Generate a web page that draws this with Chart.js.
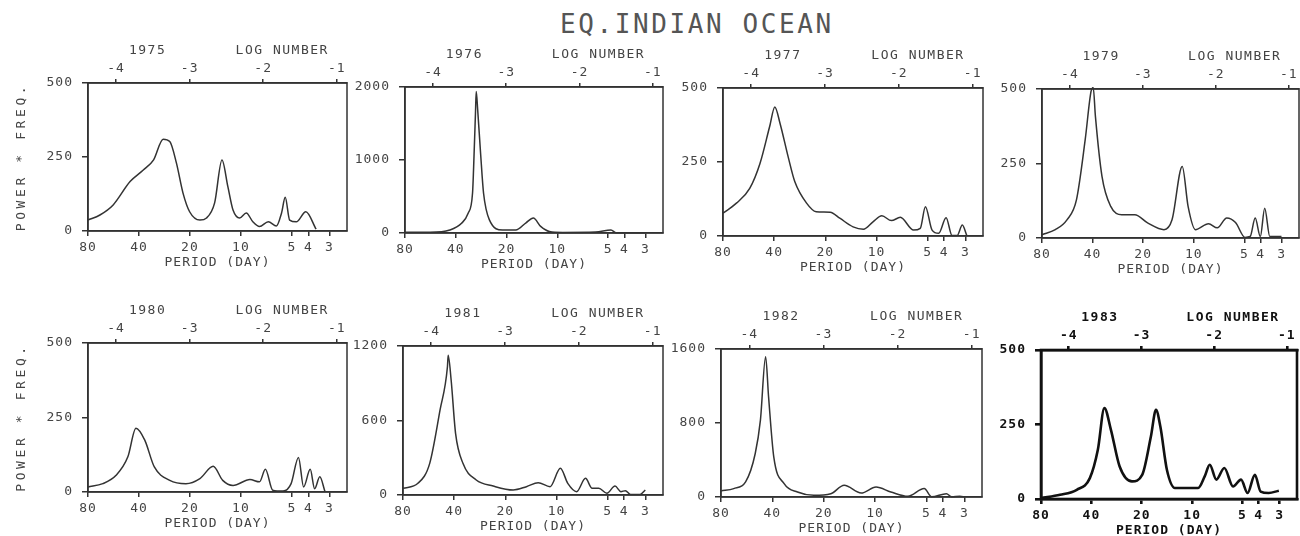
<!DOCTYPE html>
<html><head><meta charset="utf-8">
<script src="https://cdn.jsdelivr.net/npm/chart.js@4.4.1/dist/chart.umd.min.js"></script>
<style>
html,body{margin:0;padding:0;background:#fff;}
body{width:1300px;height:536px;position:relative;overflow:hidden;font-family:'DejaVu Sans Mono',monospace;}
#title{position:absolute;left:560px;top:9px;font-size:26px;letter-spacing:2.6px;color:#555;white-space:nowrap;line-height:30px;}
canvas{position:absolute;}
</style></head><body>
<div id="title">EQ.INDIAN OCEAN</div>
<script>
// ---------- data (x = LOG NUMBER = ln(frequency, cycles/day); y = power * frequency) ----------
const periodTicks = [80, 40, 20, 10, 5, 4, 3];
const logTicks = [-4, -3, -2, -1];
const years = ['1975', '1976', '1977', '1979', '1980', '1981', '1982', '1983'];
const yTicks1975 = [0, 250, 500];
const yTicks1976 = [0, 1000, 2000];
const yTicks1977 = [0, 250, 500];
const yTicks1979 = [0, 250, 500];
const yTicks1980 = [0, 250, 500];
const yTicks1981 = [0, 600, 1200];
const yTicks1982 = [0, 800, 1600];
const yTicks1983 = [0, 250, 500];

const ln1975 = [-4.382,-4.22,-4.04,-3.81,-3.63,-3.49,-3.36,-3.27,-3.18,-3.09,-3.00,-2.86,-2.77,-2.66,-2.56,-2.48,-2.41,-2.32,-2.23,-2.14,-2.05,-1.93,-1.82,-1.75,-1.70,-1.64,-1.55,-1.42,-1.28];
const pw1975 = [37,54,88,167,206,240,310,302,230,128,65,37,44,95,240,150,71,44,61,31,15,31,17,61,114,37,31,65,6];

const ln1976 = [-4.382,-4.04,-3.77,-3.61,-3.52,-3.46,-3.44,-3.42,-3.41,-3.39,-3.35,-3.31,-3.23,-3.05,-2.87,-2.73,-2.63,-2.53,-2.41,-2.23,-1.78,-1.57,-1.50,-1.10];
const pw1976 = [10,10,41,133,270,548,1050,1640,1940,1690,1090,548,180,41,41,140,205,90,20,8,12,41,2,2];

const ln1977 = [-4.382,-4.20,-4.02,-3.88,-3.75,-3.68,-3.61,-3.50,-3.41,-3.25,-3.12,-2.93,-2.80,-2.62,-2.48,-2.35,-2.23,-2.10,-1.98,-1.80,-1.71,-1.64,-1.55,-1.46,-1.36,-1.28,-1.21,-1.14,-1.08];
const pw1977 = [77,111,161,246,370,436,381,268,184,111,82,80,60,31,23,48,68,52,63,20,26,99,20,9,62,2,2,37,2];

const ln1979 = [-4.382,-4.20,-4.04,-3.91,-3.79,-3.71,-3.68,-3.65,-3.56,-3.44,-3.29,-3.11,-2.93,-2.71,-2.60,-2.46,-2.38,-2.28,-2.10,-1.98,-1.85,-1.73,-1.60,-1.53,-1.46,-1.39,-1.33,-1.26,-1.10];
const pw1979 = [11,28,61,128,330,492,505,408,207,106,78,78,50,28,61,240,106,28,48,34,67,52,2,5,67,5,100,5,5];

const ln1980 = [-4.382,-4.18,-4.00,-3.84,-3.73,-3.61,-3.48,-3.27,-3.05,-2.86,-2.68,-2.55,-2.41,-2.18,-2.05,-1.97,-1.87,-1.73,-1.62,-1.52,-1.45,-1.36,-1.30,-1.23,-1.16];
const pw1980 = [17,28,56,118,214,174,84,39,28,45,86,39,22,42,34,76,6,3,28,116,17,76,11,51,2];

const ln1981 = [-4.382,-4.18,-4.02,-3.88,-3.78,-3.77,-3.73,-3.67,-3.57,-3.39,-3.16,-2.89,-2.71,-2.55,-2.39,-2.25,-2.15,-2.03,-1.91,-1.82,-1.73,-1.62,-1.51,-1.43,-1.37,-1.30,-1.17,-1.10];
const pw1981 = [54,94,255,685,1033,1125,926,497,255,121,72,40,67,99,67,215,94,27,134,54,54,14,72,27,35,4,4,40];

const ln1982 = [-4.382,-4.21,-4.05,-3.92,-3.85,-3.78,-3.74,-3.67,-3.53,-3.35,-3.13,-2.90,-2.72,-2.49,-2.29,-2.09,-1.86,-1.64,-1.54,-1.34,-1.27,-1.16,-1.09];
const pw1982 = [65,91,163,470,831,1517,1083,433,145,54,18,36,127,43,108,54,7,91,2,36,2,7,2];

const ln1983 = [-4.382,-4.12,-3.89,-3.71,-3.60,-3.51,-3.42,-3.30,-3.13,-2.99,-2.87,-2.80,-2.74,-2.65,-2.54,-2.22,-2.13,-2.06,-1.97,-1.86,-1.74,-1.63,-1.54,-1.44,-1.36,-1.25,-1.11];
const pw1983 = [3,14,31,70,165,305,232,109,59,81,210,299,243,98,37,37,76,115,65,104,42,65,20,81,25,20,28];

// ---------- layout (page-pixel rectangles of each plot frame) ----------
const panels = [
  {year: years[0], xs: ln1975, ys: pw1975, yt: yTicks1975, L: 88,   T: 83,  R: 347,  B: 231, ytitle: true},
  {year: years[1], xs: ln1976, ys: pw1976, yt: yTicks1976, L: 405,  T: 87,  R: 663,  B: 233},
  {year: years[2], xs: ln1977, ys: pw1977, yt: yTicks1977, L: 723,  T: 88,  R: 983,  B: 236},
  {year: years[3], xs: ln1979, ys: pw1979, yt: yTicks1979, L: 1042, T: 89,  R: 1299, B: 238},
  {year: years[4], xs: ln1980, ys: pw1980, yt: yTicks1980, L: 88,   T: 343, R: 347,  B: 492, ytitle: true},
  {year: years[5], xs: ln1981, ys: pw1981, yt: yTicks1981, L: 403,  T: 346, R: 663,  B: 495},
  {year: years[6], xs: ln1982, ys: pw1982, yt: yTicks1982, L: 721,  T: 349, R: 982,  B: 497},
  {year: years[7], xs: ln1983, ys: pw1983, yt: yTicks1983, L: 1041, T: 350, R: 1297, B: 499, bold: true}
];

const X_MIN = -Math.log(80);
const X_MAX = -0.86;
const PADL = 85, PADT = 62, PADB = 39, PADR = 3;
const FONT = "'DejaVu Sans Mono', monospace";

const panelText = {
  id: 'panelText',
  beforeDraw(chart) {
    try { chart.ctx.letterSpacing = '1px'; } catch (e) {}
  },
  afterDraw(chart, args, opts) {
    const ctx = chart.ctx, a = chart.chartArea;
    ctx.save();
    // frame
    ctx.strokeStyle = opts.bold ? '#111' : '#333';
    ctx.lineWidth = opts.bold ? 2.6 : 1.5;
    ctx.strokeRect(a.left, a.top, a.right - a.left, a.bottom - a.top);
    // year and LOG NUMBER
    ctx.fillStyle = opts.bold ? '#111' : '#444';
    ctx.font = (opts.bold ? 'bold ' : '') + '13px ' + FONT;
    ctx.textBaseline = 'alphabetic';
    ctx.textAlign = 'center';
    try { ctx.letterSpacing = '1.5px'; } catch (e) {}
    const w = a.right - a.left;
    ctx.fillText(opts.year, a.left + 0.23 * w, a.top - 29);
    ctx.fillText('LOG NUMBER', a.left + 0.75 * w, a.top - 29);
    if (opts.ytitle) {
      try { ctx.letterSpacing = '3.6px'; } catch (e) {}
      ctx.translate(a.left - 66, (a.top + a.bottom) / 2);
      ctx.rotate(-Math.PI / 2);
      ctx.textBaseline = 'middle';
      ctx.fillText('POWER * FREQ.', 0, 0);
    }
    ctx.restore();
  }
};

panels.forEach((p, i) => {
  const cv = document.createElement('canvas');
  const W = (p.R - p.L) + PADL + PADR;
  const H = (p.B - p.T) + PADT + PADB;
  cv.width = W; cv.height = H;
  cv.style.left = (p.L - PADL) + 'px';
  cv.style.top = (p.T - PADT) + 'px';
  cv.style.width = W + 'px'; cv.style.height = H + 'px';
  document.body.appendChild(cv);

  const col = p.bold ? '#111' : '#333';
  const tcol = p.bold ? '#111' : '#444';
  const lw = p.bold ? 2.6 : 1.5;
  const tfont = {family: FONT, size: 13, weight: p.bold ? 'bold' : 'normal'};
  const yMax = p.yt[p.yt.length - 1];

  new Chart(cv, {
    type: 'line',
    data: {
      datasets: [{
        data: p.xs.map((x, k) => ({x: x, y: p.ys[k]})),
        borderColor: col,
        borderWidth: lw,
        pointRadius: 0,
        fill: false,
        cubicInterpolationMode: 'monotone',
        clip: 2
      }]
    },
    options: {
      responsive: false,
      animation: false,
      devicePixelRatio: 1,
      layout: {padding: {left: 0, right: PADR, top: 0, bottom: 0}},
      plugins: {
        legend: {display: false},
        tooltip: {enabled: false},
        panelText: {year: p.year, ytitle: !!p.ytitle, bold: !!p.bold}
      },
      scales: {
        x: {
          type: 'linear', position: 'bottom', min: X_MIN, max: X_MAX,
          afterBuildTicks: s => { s.ticks = periodTicks.map(v => ({value: -Math.log(v)})); },
          afterFit: s => { s.height = PADB; },
          ticks: {
            autoSkip: false, maxRotation: 0, padding: 4, color: tcol, font: tfont,
            callback: v => String(Math.round(Math.exp(-v)))
          },
          grid: {drawOnChartArea: false, drawTicks: true, tickLength: 5, color: col, lineWidth: lw},
          border: {display: true, color: col, width: lw},
          title: {display: true, text: 'PERIOD (DAY)', color: tcol, font: tfont, padding: {top: 0, bottom: 0}}
        },
        x2: {
          type: 'linear', position: 'top', min: X_MIN, max: X_MAX,
          afterBuildTicks: s => { s.ticks = logTicks.map(v => ({value: v})); },
          afterFit: s => { s.height = PADT; },
          ticks: {autoSkip: false, maxRotation: 0, padding: 3, color: tcol, font: tfont,
                  callback: v => String(v)},
          grid: {drawOnChartArea: false, drawTicks: true, tickLength: 4, color: col, lineWidth: lw},
          border: {display: true, color: col, width: lw}
        },
        y: {
          type: 'linear', position: 'left', min: 0, max: yMax,
          afterBuildTicks: s => { s.ticks = p.yt.map(v => ({value: v})); },
          afterFit: s => { s.width = PADL; },
          ticks: {padding: 9, color: tcol, font: tfont, callback: v => String(v)},
          grid: {drawOnChartArea: false, drawTicks: true, tickLength: 6, color: col, lineWidth: lw},
          border: {display: true, color: col, width: lw}
        }
      }
    },
    plugins: [panelText]
  });
});
</script>
</body></html>
